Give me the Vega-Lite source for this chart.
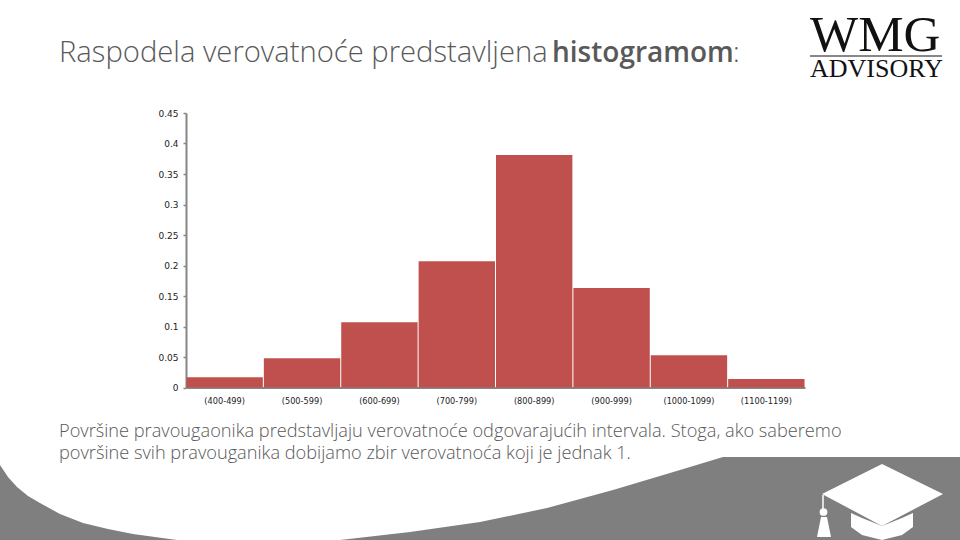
{
"$schema":"https://vega.github.io/schema/vega-lite/v6.json",
"width":619,"height":274.5,
"autosize":{"type":"none"},
"padding":{"left":186,"top":113,"right":155,"bottom":152.5},
"background":"white",
"view":{"stroke":null},
"datasets":{
"bg":[
{"shape":"left","x":0,"y":465},{"shape":"left","x":8,"y":477},{"shape":"left","x":17,"y":487},{"shape":"left","x":28,"y":496},{"shape":"left","x":40,"y":503},{"shape":"left","x":60,"y":514},{"shape":"left","x":83,"y":523},{"shape":"left","x":108,"y":529},{"shape":"left","x":133,"y":534},{"shape":"left","x":155,"y":537},{"shape":"left","x":177,"y":540},
{"shape":"right","x":340,"y":540},{"shape":"right","x":410,"y":532},{"shape":"right","x":480,"y":522},{"shape":"right","x":547,"y":508},{"shape":"right","x":613,"y":490},{"shape":"right","x":680,"y":470},{"shape":"right","x":723,"y":457},{"shape":"right","x":960,"y":457}
],
"cap":[
{"shape":"board","x":822,"top":494,"bottom":494},{"shape":"board","x":882,"top":464,"bottom":526},{"shape":"board","x":943,"top":494,"bottom":494},
{"shape":"body","x":851,"top":513,"bottom":527},{"shape":"body","x":862,"top":518,"bottom":535},{"shape":"body","x":882,"top":526,"bottom":540},{"shape":"body","x":902,"top":518,"bottom":535},{"shape":"body","x":913,"top":513,"bottom":527},
{"shape":"tassel","x":817,"top":537,"bottom":537},{"shape":"tassel","x":821,"top":517,"bottom":537},{"shape":"tassel","x":827,"top":517,"bottom":537},{"shape":"tassel","x":831,"top":537,"bottom":537}
],
"hist":[
{"interval":"(400-499)","p":0.017},{"interval":"(500-599)","p":0.048},{"interval":"(600-699)","p":0.107},{"interval":"(700-799)","p":0.207},{"interval":"(800-899)","p":0.381},{"interval":"(900-999)","p":0.163},{"interval":"(1000-1099)","p":0.053},{"interval":"(1100-1199)","p":0.014}
]
},
"layer":[
{"data":{"name":"bg"},
 "mark":{"type":"area","color":"#7f7f7f"},
 "encoding":{
  "x":{"field":"x","type":"quantitative","scale":{"domain":[186,805]},"axis":null},
  "y":{"field":"y","type":"quantitative","scale":{"domain":[387.5,113]},"axis":null},
  "y2":{"datum":540},
  "detail":{"field":"shape"}}},
{"data":{"name":"cap"},
 "mark":{"type":"area","color":"white"},
 "encoding":{
  "x":{"field":"x","type":"quantitative","scale":{"domain":[186,805]},"axis":null},
  "y":{"field":"top","type":"quantitative","scale":{"domain":[387.5,113]},"axis":null},
  "y2":{"field":"bottom"},
  "detail":{"field":"shape"}}},
{"data":{"values":[{"x":823,"y":495,"y2":512}]},
 "mark":{"type":"rule","color":"white","strokeWidth":1.5},
 "encoding":{
  "x":{"field":"x","type":"quantitative","scale":{"domain":[186,805]},"axis":null},
  "y":{"field":"y","type":"quantitative","scale":{"domain":[387.5,113]},"axis":null},
  "y2":{"field":"y2"}}},
{"data":{"values":[{"x":823.5,"y":512}]},
 "mark":{"type":"point","filled":true,"color":"white","opacity":1,"size":60},
 "encoding":{
  "x":{"field":"x","type":"quantitative","scale":{"domain":[186,805]},"axis":null},
  "y":{"field":"y","type":"quantitative","scale":{"domain":[387.5,113]},"axis":null}}},
{"data":{"values":[{"x":810,"x2":942,"y":56}]},
 "mark":{"type":"rule","color":"#111111","strokeWidth":1},
 "encoding":{
  "x":{"field":"x","type":"quantitative","scale":{"domain":[186,805]},"axis":null},
  "x2":{"field":"x2"},
  "y":{"field":"y","type":"quantitative","scale":{"domain":[387.5,113]},"axis":null}}},
{"data":{"name":"hist"},
 "mark":{"type":"bar","color":"#c0504d"},
 "encoding":{
  "x":{"field":"interval","type":"nominal","sort":null,"title":null,
   "scale":{"paddingInner":0.013,"paddingOuter":0.006},
   "axis":{"labelAngle":0,"labelFont":"DejaVu Sans","labelFontSize":8.2,"labelColor":"#222222","labelPadding":10,"domainColor":"#868686","domainWidth":2,"ticks":false,"grid":false}},
  "y":{"field":"p","type":"quantitative","title":null,
   "scale":{"domain":[0,0.45],"nice":false},
   "axis":{"values":[0,0.05,0.1,0.15,0.2,0.25,0.3,0.35,0.4,0.45],"format":".2~f","labelFont":"DejaVu Sans","labelFontSize":9,"labelColor":"#222222","labelPadding":5,"domainColor":"#868686","domainWidth":2,"tickColor":"#868686","tickWidth":1.5,"tickSize":3,"grid":false}}}},
{"data":{"values":[{"t":"Raspodela verovatnoće predstavljena"}]},
 "mark":{"type":"text","x":-127,"y":-51,"align":"left","baseline":"alphabetic","font":"Open Sans","fontSize":29.2,"fontWeight":300,"color":"#595959"},
 "encoding":{"text":{"field":"t"}}},
{"data":{"values":[{"t":"histogramom"}]},
 "mark":{"type":"text","x":366,"y":-51,"align":"left","baseline":"alphabetic","font":"Open Sans","fontSize":28,"fontWeight":600,"color":"#595959"},
 "encoding":{"text":{"field":"t"}}},
{"data":{"values":[{"t":":"}]},
 "mark":{"type":"text","x":547,"y":-51,"align":"left","baseline":"alphabetic","font":"Open Sans","fontSize":28,"fontWeight":300,"color":"#595959"},
 "encoding":{"text":{"field":"t"}}},
{"data":{"values":[{"t":"Površine pravougaonika predstavljaju verovatnoće odgovarajućih intervala. Stoga, ako saberemo"}]},
 "mark":{"type":"text","x":-127,"y":324,"align":"left","baseline":"alphabetic","font":"Open Sans","fontSize":18.2,"fontWeight":300,"color":"#595959"},
 "encoding":{"text":{"field":"t"}}},
{"data":{"values":[{"t":"površine svih pravouganika dobijamo zbir verovatnoća koji je jednak 1."}]},
 "mark":{"type":"text","x":-127,"y":346,"align":"left","baseline":"alphabetic","font":"Open Sans","fontSize":18.2,"fontWeight":300,"color":"#595959"},
 "encoding":{"text":{"field":"t"}}},
{"data":{"values":[{"t":"WMG"}]},
 "mark":{"type":"text","x":624,"y":-62,"align":"left","baseline":"alphabetic","font":"Liberation Serif","fontSize":51,"color":"#111111"},
 "encoding":{"text":{"field":"t"}}},
{"data":{"values":[{"t":"ADVISORY"}]},
 "mark":{"type":"text","x":624,"y":-36,"align":"left","baseline":"alphabetic","font":"Liberation Serif","fontSize":26,"color":"#111111"},
 "encoding":{"text":{"field":"t"}}}
],
"resolve":{"scale":{"x":"independent","y":"independent"}}
}
